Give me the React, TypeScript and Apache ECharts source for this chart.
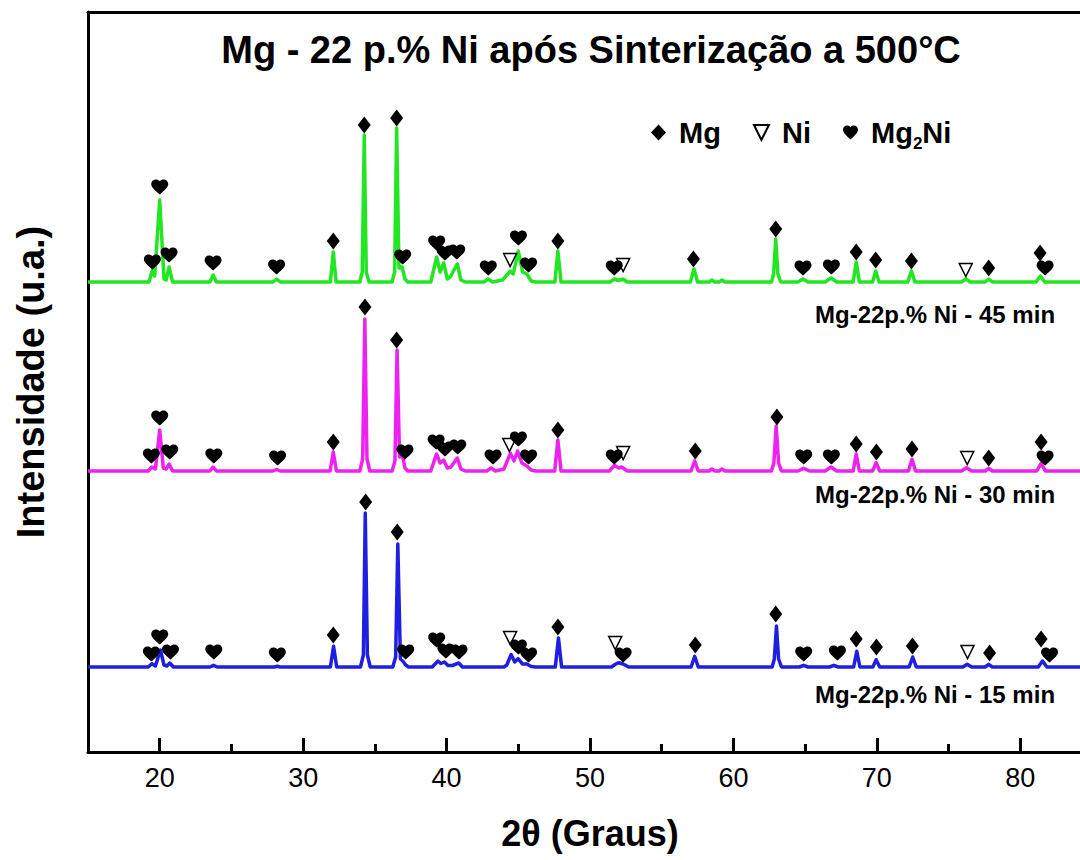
import React, { useEffect, useRef } from 'react';
import * as echarts from 'echarts';

const FONT = '"Liberation Sans", Arial, Helvetica, sans-serif';

// x axis (2θ, degrees)
const xMin = 15;
const xMax = 85;
const xMajorTicks = [20, 30, 40, 50, 60, 70, 80];
const xMinorTicks = [25, 35, 45, 55, 65, 75];

// y axis (arbitrary units)
const yMin = 0;
const yMax = 740;

const sampleNames = ['Mg-22p.% Ni - 45 min', 'Mg-22p.% Ni - 30 min', 'Mg-22p.% Ni - 15 min'];
const sampleColors = ['#22e622', '#ee22ee', '#1f1fe0'];
// vertical stacking offset of each pattern (a.u.)
const sampleOffsets = [470, 281, 85];

// diffractogram vertices [2θ, intensity above its own baseline]
const pattern45 = [
  [15, 0], [19.25, 0], [19.49, 12], [19.65, 6], [20.0, 82], [20.3, 3], [20.45, 2], [20.65, 15], [20.9, 0],
  [23.5, 0], [23.72, 7], [23.95, 0],
  [27.9, 0], [28.15, 3], [28.4, 0],
  [31.9, 0], [32.1, 30], [32.3, 0],
  [33.95, 0], [34.12, 10], [34.26, 147], [34.4, 10], [34.6, 0],
  [36.2, 0], [36.38, 10], [36.52, 154], [36.68, 14], [36.9, 15], [37.1, 3], [37.3, 0],
  [38.9, 0], [39.31, 25], [39.55, 10], [39.8, 19], [40.05, 3], [40.25, 5], [40.75, 18], [41.0, 2], [41.3, 0],
  [42.6, 0], [42.9, 3], [43.2, 0],
  [43.9, 2], [44.45, 11], [44.65, 8], [45.0, 31], [45.3, 10], [45.6, 8], [45.9, 1], [46.2, 0],
  [47.55, 0], [47.76, 31], [47.98, 0],
  [51.4, 0], [51.7, 3], [52.0, 1.5], [52.3, 3], [52.6, 0],
  [57.0, 0], [57.25, 13], [57.5, 0],
  [58.3, 0], [58.5, 2], [58.7, 0], [59.0, 0], [59.2, 2], [59.4, 0],
  [62.65, 0], [62.8, 8], [62.95, 43], [63.1, 8], [63.3, 0],
  [64.5, 0], [64.85, 3], [65.2, 0],
  [66.4, 0], [66.8, 4], [67.2, 0],
  [68.35, 0], [68.56, 20], [68.78, 0],
  [69.7, 0], [69.92, 11], [70.15, 0],
  [72.15, 0], [72.41, 11], [72.65, 0],
  [75.9, 0], [76.2, 3], [76.5, 0],
  [77.55, 0], [77.8, 3], [78.05, 0],
  [81.1, 0], [81.4, 6], [81.7, 0],
  [85, 0],
];

const pattern30 = [
  [15, 0], [19.2, 0], [19.45, 4], [19.7, 2], [20.0, 41], [20.25, 3], [20.45, 2], [20.65, 7], [20.9, 0],
  [23.5, 0], [23.72, 4], [23.95, 0],
  [27.9, 0], [28.15, 1.5], [28.4, 0],
  [31.88, 0], [32.1, 19], [32.32, 0],
  [33.95, 0], [34.15, 12], [34.3, 152], [34.45, 12], [34.65, 0],
  [36.2, 0], [36.4, 10], [36.55, 121], [36.72, 14], [36.9, 17], [37.1, 3], [37.3, 0],
  [38.9, 0], [39.3, 17], [39.55, 8], [39.8, 11], [40.05, 3], [40.3, 4], [40.75, 13], [41.0, 2], [41.3, 0],
  [42.8, 0], [43.1, 3], [43.4, 0],
  [44.0, 2], [44.45, 17.7], [44.7, 10], [44.95, 20], [45.25, 8], [45.6, 5], [45.9, 1], [46.2, 0],
  [47.54, 0], [47.76, 31], [47.98, 0],
  [51.35, 0], [51.7, 5.7], [52.0, 3], [52.2, 4], [52.6, 0],
  [57.05, 0], [57.3, 10], [57.55, 0],
  [58.3, 0], [58.5, 2], [58.7, 0], [59.0, 0], [59.2, 2], [59.4, 0],
  [62.65, 0], [62.82, 8], [62.98, 45], [63.15, 8], [63.35, 0],
  [64.5, 0], [64.9, 2.7], [65.3, 0],
  [66.4, 0], [66.8, 4], [67.2, 0],
  [68.35, 0], [68.56, 17], [68.78, 0],
  [69.7, 0], [69.95, 8.3], [70.2, 0],
  [72.2, 0], [72.45, 11.7], [72.7, 0],
  [75.9, 0], [76.25, 3.3], [76.6, 0],
  [77.55, 0], [77.8, 2.7], [78.05, 0],
  [81.15, 0], [81.45, 7.7], [81.75, 0],
  [85, 0],
];

const pattern15 = [
  [15, 0], [19.2, 0], [19.45, 3.3], [19.7, 1], [20.05, 17], [20.3, 2], [20.5, 1], [20.7, 4], [20.95, 0],
  [23.5, 0], [23.75, 1.7], [24.0, 0],
  [28.0, 0], [28.2, 0.7], [28.4, 0],
  [31.9, 0], [32.12, 20.7], [32.34, 0],
  [34.0, 0], [34.2, 12], [34.33, 154], [34.48, 12], [34.68, 0],
  [36.25, 0], [36.45, 10], [36.6, 123], [36.78, 8], [36.95, 6], [37.15, 2], [37.35, 0],
  [39.0, 0], [39.4, 6], [39.6, 3.5], [39.85, 5], [40.1, 1.5], [40.4, 1.5], [40.85, 4], [41.1, 0],
  [44.0, 0], [44.2, 2], [44.5, 12.5], [44.75, 5], [44.98, 8.3], [45.3, 3], [45.6, 3], [45.9, 0.5], [46.2, 0],
  [47.58, 0], [47.8, 29], [48.02, 0],
  [51.5, 0], [51.8, 3], [52.0, 4.3], [52.3, 3], [52.7, 0],
  [57.05, 0], [57.3, 10.7], [57.55, 0],
  [62.7, 0], [62.85, 8], [63.0, 41], [63.15, 8], [63.35, 0],
  [64.6, 0], [64.9, 1.7], [65.2, 0],
  [66.7, 0], [67.0, 1.7], [67.3, 0],
  [68.38, 0], [68.6, 15.7], [68.82, 0],
  [69.72, 0], [69.95, 7.3], [70.2, 0],
  [72.25, 0], [72.5, 10], [72.75, 0],
  [76.0, 0], [76.3, 2.7], [76.6, 0],
  [77.55, 0], [77.8, 2.7], [78.05, 0],
  [81.25, 0], [81.55, 6], [81.85, 0],
  [85, 0],
];

// phase markers [2θ, absolute intensity on the stacked axis]
const mg45 = [[32.1, 511], [34.26, 627], [36.52, 634], [47.76, 511], [57.21, 493], [62.95, 523], [68.56, 500], [69.92, 492], [72.41, 491], [77.8, 484], [81.38, 499]];
const ni45 = [[44.43, 492], [52.31, 487], [76.2, 482]];
const mg2ni45 = [[19.49, 490], [20.0, 565], [20.65, 497], [23.72, 489], [28.15, 485], [36.94, 495], [39.31, 509], [39.89, 499], [40.71, 500], [42.91, 484], [45.01, 514], [45.72, 487], [51.69, 484], [64.85, 484], [66.83, 485], [81.73, 484]];

const mg30 = [[32.1, 310], [34.31, 445], [36.52, 412], [47.76, 322], [57.34, 301], [63.03, 335], [68.56, 308], [69.97, 300], [72.45, 303], [77.8, 294], [81.45, 310]];
const ni30 = [[44.38, 307], [52.31, 299], [76.3, 294]];
const mg2ni30 = [[19.42, 296], [20.0, 334], [20.7, 300], [23.77, 296], [28.22, 294], [37.1, 300], [39.27, 310], [39.89, 303], [40.78, 305], [43.24, 295], [45.01, 313], [45.72, 295], [51.69, 295], [64.9, 295], [66.83, 295], [81.73, 294]];

const mg15 = [[32.1, 117], [34.36, 250], [36.56, 220], [47.76, 125], [57.34, 107], [62.95, 138], [68.56, 113], [69.97, 105], [72.48, 106], [77.86, 99], [81.45, 113]];
const ni15 = [[44.43, 114], [51.76, 109], [76.32, 100]];
const mg2ni15 = [[19.42, 98], [20.0, 115], [20.75, 100], [23.77, 100], [28.2, 97], [37.15, 100], [39.31, 112], [39.95, 101], [40.87, 100], [45.01, 105], [45.72, 97], [52.31, 97], [64.9, 98], [67.25, 99], [82.04, 97]];

const phaseNames = ['Mg', 'Ni', 'Mg2Ni'];

const HEART = 'path://M12,21.35 L10.55,20.03 C5.4,15.36 2,12.28 2,8.5 C2,5.42 4.42,3 7.5,3 C9.24,3 10.91,3.81 12,5.09 C13.09,3.81 14.76,3 16.5,3 C19.58,3 22,5.42 22,8.5 C22,12.28 18.6,15.36 13.45,20.04 Z';
const DOWN_TRIANGLE = 'path://M0,0 L20,0 L10,20 Z';

export default function App() {
  const ref = useRef<HTMLDivElement>(null);

  useEffect(() => {
    if (!ref.current) return;
    const chart = echarts.init(ref.current, null, { renderer: 'svg' });

    const patterns = [pattern45, pattern30, pattern15];
    const lineSeries = patterns.map((p, i) => ({
      type: 'line',
      name: sampleNames[i],
      data: p.map(([x, y]) => [x, y + sampleOffsets[i]]),
      showSymbol: false,
      symbol: 'none',
      xAxisIndex: 0,
      yAxisIndex: 0,
      lineStyle: { color: sampleColors[i], width: 3.5, join: 'round' },
      itemStyle: { color: sampleColors[i] },
      z: 2,
      silent: true,
    }));

    const markerBase = {
      type: 'scatter',
      xAxisIndex: 0,
      yAxisIndex: 0,
      z: 5,
      clip: false,
      silent: true,
    };

    const gridBox = { left: 88, right: 8, top: 12, bottom: 108, containLabel: false, outerBoundsMode: 'none' };

    const option = {
      animation: false,
      textStyle: { fontFamily: FONT },
      grid: [{ ...gridBox }, { ...gridBox }],
      legend: {
        data: phaseNames,
        left: 646,
        top: 113,
        orient: 'horizontal',
        itemWidth: 15,
        itemHeight: 16,
        itemGap: 32,
        selectedMode: false,
        formatter: (name: string) => (name === 'Mg2Ni' ? ' {a|Mg}{s|2}{a|Ni}' : ' ' + name),
        itemStyle: { opacity: 1 },
        textStyle: {
          fontSize: 29,
          fontWeight: 'bold',
          color: '#000',
          fontFamily: FONT,
          rich: {
            a: { fontSize: 29, fontWeight: 'bold', color: '#000', fontFamily: FONT },
            s: { fontSize: 17, fontWeight: 'bold', color: '#000', fontFamily: FONT, padding: [22, 0, 0, 0] },
          },
        },
      },
      xAxis: [
        {
          type: 'value',
          gridIndex: 0,
          position: 'bottom',
          min: xMin,
          max: xMax,
          name: '2θ (Graus)',
          nameLocation: 'middle',
          nameGap: 63,
          nameTextStyle: { fontSize: 36, fontWeight: 'bold', color: '#000', fontFamily: FONT },
          axisLine: { show: true, onZero: false, lineStyle: { color: '#000', width: 3 } },
          axisTick: { show: true, inside: true, length: 14, customValues: xMajorTicks, lineStyle: { color: '#000', width: 3 } },
          axisLabel: { show: true, customValues: xMajorTicks, fontSize: 27, color: '#000', margin: 12, fontFamily: FONT },
          splitLine: { show: false },
        },
        {
          type: 'value',
          gridIndex: 0,
          position: 'top',
          min: xMin,
          max: xMax,
          axisLine: { show: true, onZero: false, lineStyle: { color: '#000', width: 3 } },
          axisTick: { show: false },
          axisLabel: { show: false },
          splitLine: { show: false },
        },
        {
          type: 'value',
          gridIndex: 1,
          position: 'bottom',
          min: xMin,
          max: xMax,
          axisLine: { show: false },
          axisTick: { show: true, inside: true, length: 8, customValues: xMinorTicks, lineStyle: { color: '#000', width: 3 } },
          axisLabel: { show: false },
          splitLine: { show: false },
        },
      ],
      yAxis: [
        {
          type: 'value',
          gridIndex: 0,
          position: 'left',
          min: yMin,
          max: yMax,
          name: 'Intensidade (u.a.)',
          nameLocation: 'middle',
          nameGap: 38,
          nameRotate: 90,
          nameTextStyle: { fontSize: 38, fontWeight: 'bold', color: '#000', fontFamily: FONT },
          axisLine: { show: true, onZero: false, lineStyle: { color: '#000', width: 3 } },
          axisTick: { show: false },
          axisLabel: { show: false },
          splitLine: { show: false },
        },
        {
          type: 'value',
          gridIndex: 0,
          position: 'right',
          min: yMin,
          max: yMax,
          axisLine: { show: true, onZero: false, lineStyle: { color: '#000', width: 3 } },
          axisTick: { show: false },
          axisLabel: { show: false },
          splitLine: { show: false },
        },
        {
          type: 'value',
          gridIndex: 1,
          min: yMin,
          max: yMax,
          show: false,
        },
      ],
      series: [
        ...lineSeries,
        {
          ...markerBase,
          name: 'Mg',
          symbol: 'diamond',
          symbolSize: [13, 17],
          itemStyle: { color: '#000', opacity: 1 },
          data: [...mg45, ...mg30, ...mg15],
        },
        {
          ...markerBase,
          name: 'Ni',
          symbol: DOWN_TRIANGLE,
          symbolSize: [13, 13],
          itemStyle: { color: '#fff', borderColor: '#000', borderWidth: 1.5, opacity: 1 },
          data: [...ni45, ...ni30, ...ni15],
        },
        {
          ...markerBase,
          name: 'Mg2Ni',
          symbol: HEART,
          symbolSize: [17, 15],
          itemStyle: { color: '#000', opacity: 1 },
          data: [...mg2ni45, ...mg2ni30, ...mg2ni15],
        },
      ],
      graphic: [
        {
          type: 'text',
          x: 591,
          y: 50,
          z: 10,
          style: {
            text: 'Mg - 22 p.% Ni após Sinterização a 500°C',
            fontSize: 38,
            fontWeight: 'bold',
            fontFamily: FONT,
            fill: '#000',
            align: 'center',
            verticalAlign: 'middle',
          },
        },
        ...sampleNames.map((name, i) => ({
          type: 'text',
          x: 815,
          y: [314, 494, 694][i],
          z: 10,
          style: {
            text: name,
            fontSize: 24,
            fontWeight: 'bold',
            fontFamily: FONT,
            fill: '#000',
            align: 'left',
            verticalAlign: 'middle',
          },
        })),
      ],
    };

    chart.setOption(option as any);
    return () => chart.dispose();
  }, []);

  return (
    <div style={{ position: 'absolute', left: 0, top: 0, width: 1080, height: 860, overflow: 'hidden', background: '#fff' }}>
      <div ref={ref} style={{ width: 1100, height: 860 }} />
    </div>
  );
}
